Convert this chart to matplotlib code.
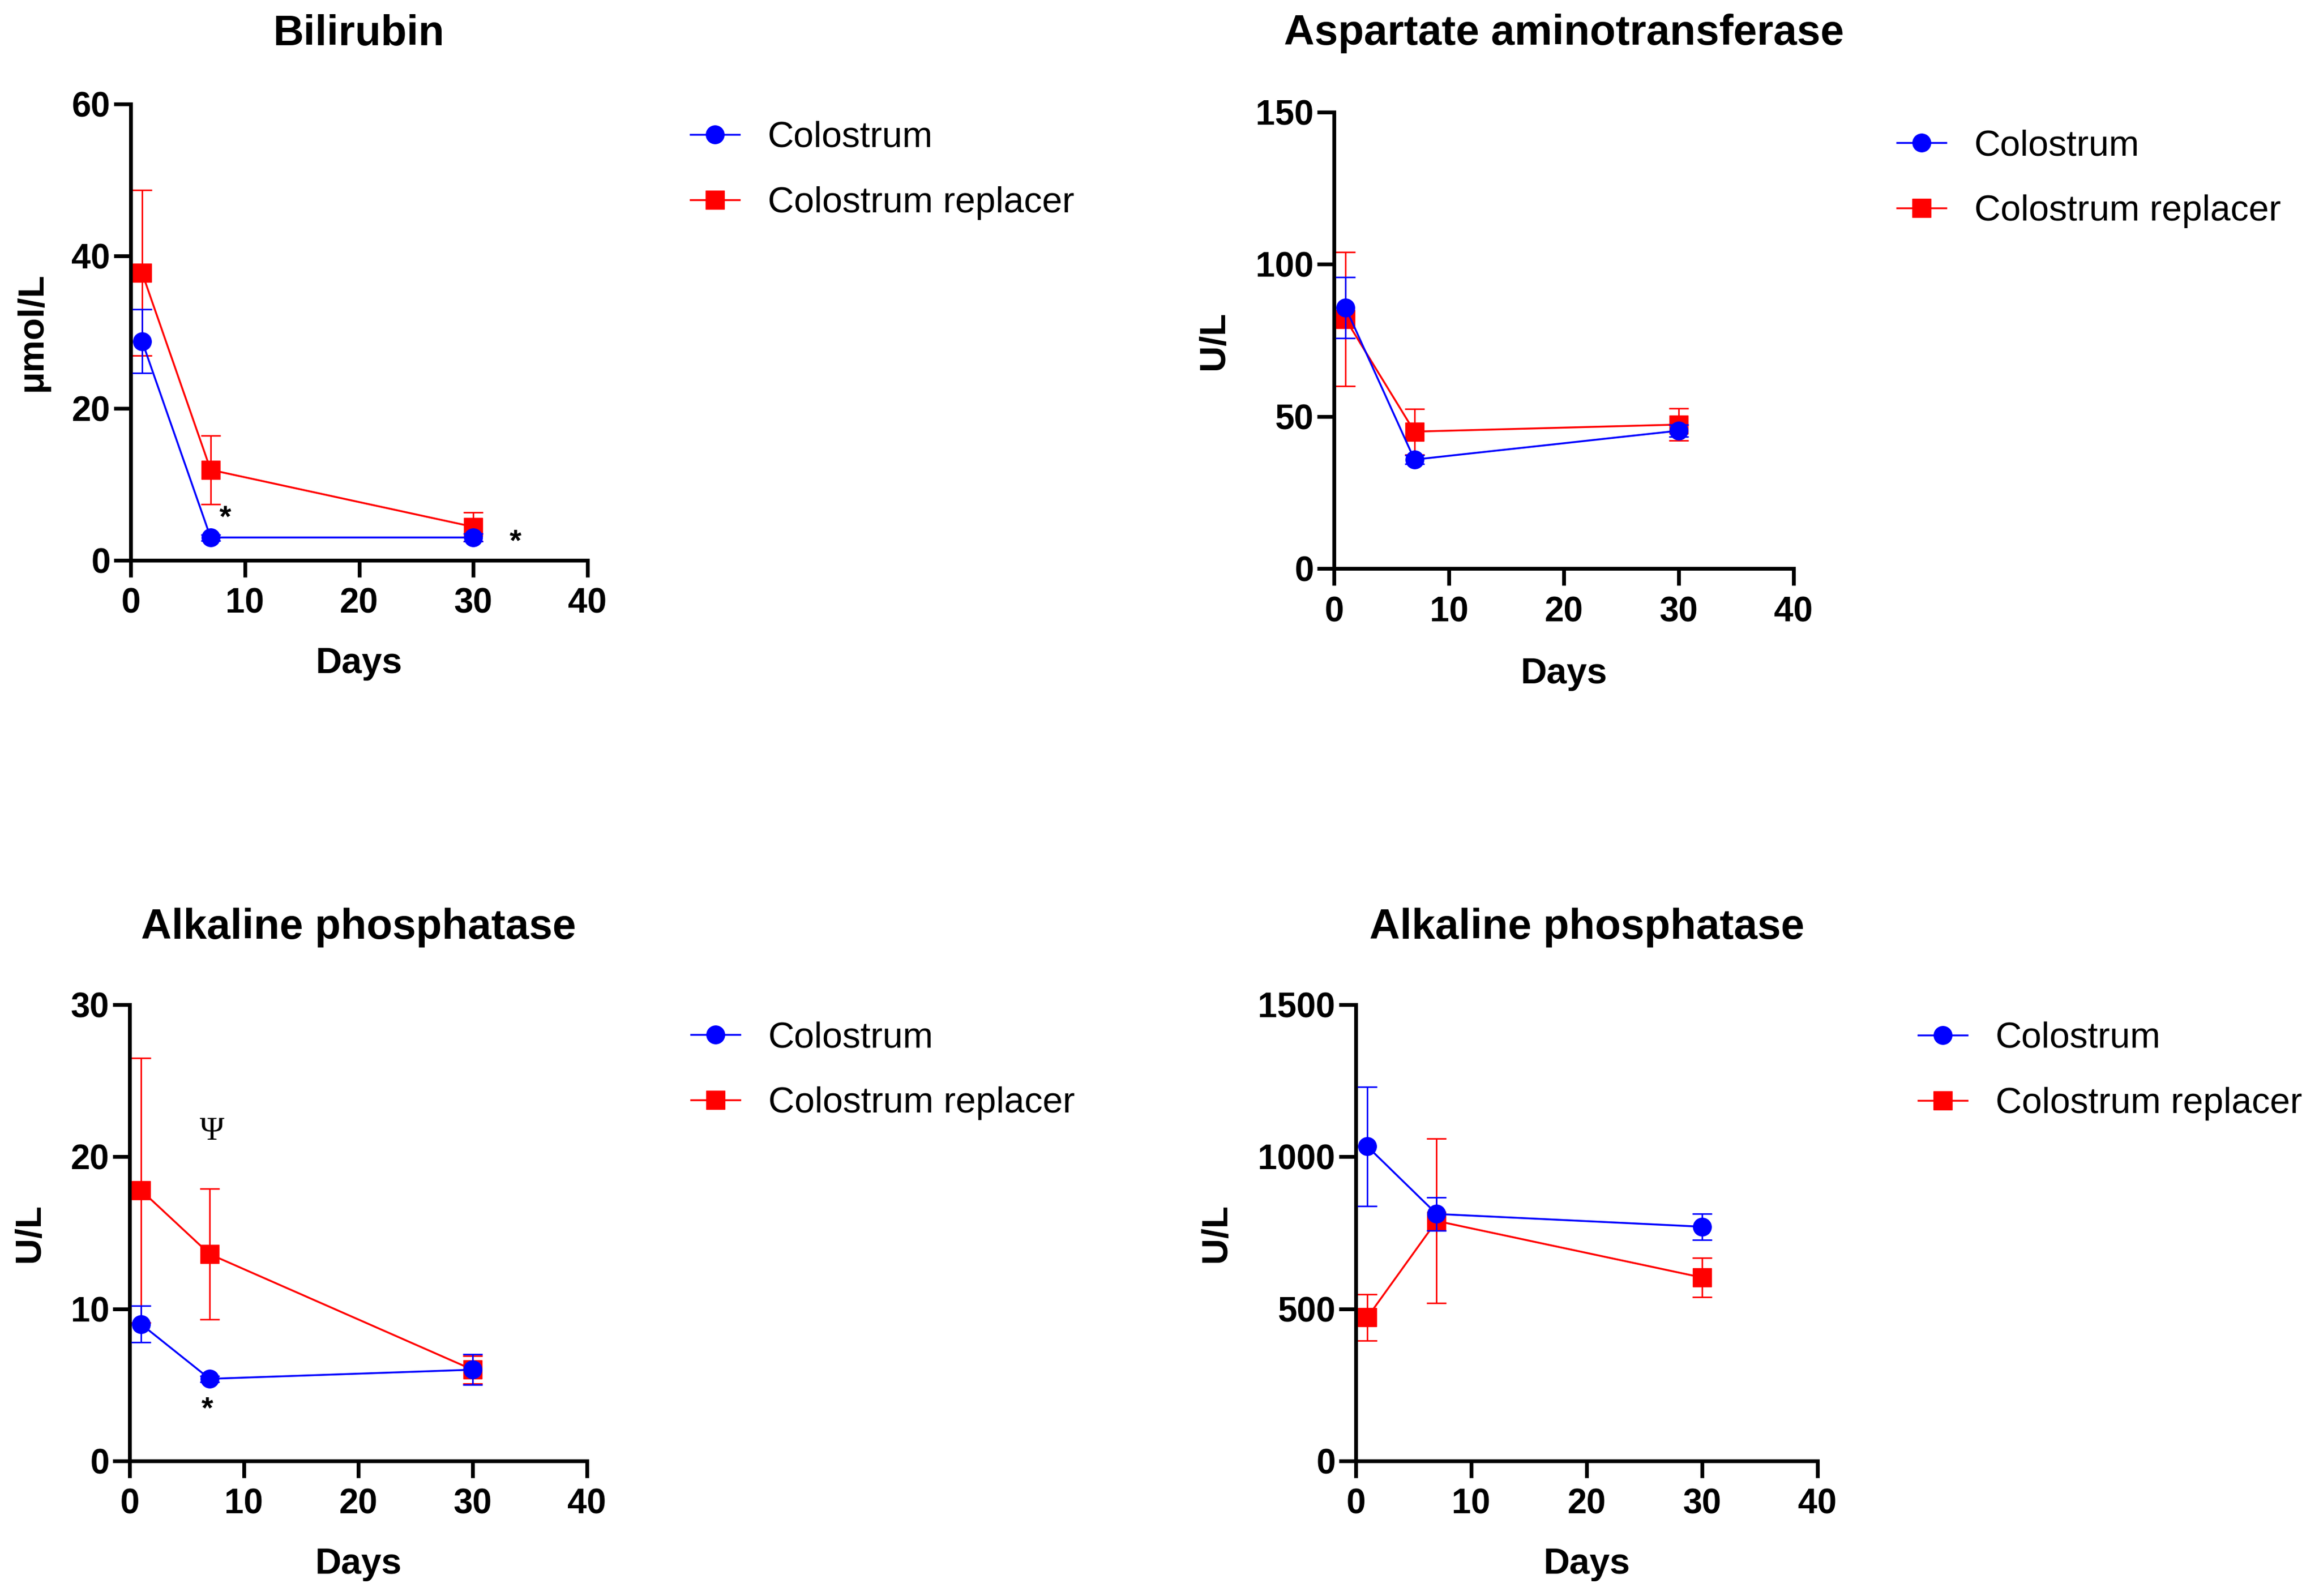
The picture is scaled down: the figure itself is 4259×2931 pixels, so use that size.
import matplotlib
matplotlib.use('Agg')
import matplotlib.pyplot as plt
from matplotlib.transforms import offset_copy

plt.rcParams['font.family'] = ['Liberation Sans', 'DejaVu Sans']

W, H, DPI = 4259, 2931, 100

days = [1, 7, 30]
series_names = ['Colostrum', 'Colostrum replacer']

# Bilirubin (µmol/L)
bili_col = [28.8, 3.0, 3.0]
bili_col_err = [4.2, 0.4, 0.5]
bili_rep = [37.8, 11.9, 4.4]
bili_rep_err = [10.9, 4.5, 1.9]

# Aspartate aminotransferase (U/L)
ast_col = [85.8, 35.8, 45.3]
ast_col_err = [10.0, 1.5, 2.0]
ast_rep = [82.0, 45.0, 47.3]
ast_rep_err = [22.0, 7.5, 5.3]

# Alkaline phosphatase, left panel (U/L)
alp1_col = [9.0, 5.4, 6.0]
alp1_col_err = [1.2, 0.2, 1.0]
alp1_rep = [17.8, 13.6, 6.0]
alp1_rep_err = [8.7, 4.3, 0.9]

# Alkaline phosphatase, right panel (U/L)
alp2_col = [1034, 812, 770]
alp2_col_err = [196, 55, 43]
alp2_rep = [472, 789, 603]
alp2_rep_err = [76, 270, 65]

titles = ['Bilirubin', 'Aspartate aminotransferase',
          'Alkaline phosphatase', 'Alkaline phosphatase']
ylabels = ['\u03bcmol/L', 'U/L', 'U/L', 'U/L']
yticks = [[0, 20, 40, 60], [0, 50, 100, 150], [0, 10, 20, 30],
          [0, 500, 1000, 1500]]
xticks = [0, 10, 20, 30, 40]

# annotations: (panel, text, x, y)
marks = [(0, '*', 8.3, 6.8), (0, '*', 33.7, 3.6),
         (2, '*', 6.8, 4.0), (2, '\u03a8', 7.2, 21.8)]

BLUE = '#0000FF'
RED = '#FF0000'

fig = plt.figure(figsize=(W / DPI, H / DPI), dpi=DPI)

# axes rectangles in pixels: left, right, top, bottom
rects = [(240, 1079, 191, 1029), (2450, 3294, 206, 1044),
         (238, 1078, 1845, 2683), (2490, 3338, 1845, 2683)]
title_pads = [78, 89, 87, 87]
ylab_x = [-0.178, -0.224, -0.181, -0.265]
xlab_y = [-0.190, -0.194, -0.190, -0.190]
legend_pos = [(1268, 222), (3484, 237), (1269, 1875), (3523, 1876)]

data = [
    (bili_col, bili_col_err, bili_rep, bili_rep_err),
    (ast_col, ast_col_err, ast_rep, ast_rep_err),
    (alp1_col, alp1_col_err, alp1_rep, alp1_rep_err),
    (alp2_col, alp2_col_err, alp2_rep, alp2_rep_err),
]

axes = []
for i, (l, r, t, b) in enumerate(rects):
    ax = fig.add_axes([l / W, 1 - b / H, (r - l) / W, (b - t) / H])
    axes.append(ax)
    col, col_e, rep, rep_e = data[i]

    # replacer first, colostrum on top
    ax.errorbar(days, rep, yerr=rep_e, fmt='none', ecolor=RED,
                elinewidth=2.0, capsize=13, capthick=2.0, zorder=2)
    l_rep, = ax.plot(days, rep, color=RED, lw=2.5, marker='s', ms=25,
                     zorder=3, label=series_names[1], clip_on=False)
    ax.errorbar(days, col, yerr=col_e, fmt='none', ecolor=BLUE,
                elinewidth=2.0, capsize=13, capthick=2.0, zorder=4)
    l_col, = ax.plot(days, col, color=BLUE, lw=2.5, marker='o', ms=24,
                     zorder=5, label=series_names[0], clip_on=False)

    ax.set_xlim(0, 40)
    ax.set_ylim(yticks[i][0], yticks[i][-1])
    ax.set_xticks(xticks)
    ax.set_yticks(yticks[i])
    for s in ['top', 'right']:
        ax.spines[s].set_visible(False)
    for s in ['left', 'bottom']:
        ax.spines[s].set_linewidth(5)
    ax.tick_params(axis='both', direction='out', length=22, width=5,
                   labelsize=46)
    ax.tick_params(axis='x', pad=14)
    ax.tick_params(axis='y', pad=5)
    for lab in ax.get_xticklabels() + ax.get_yticklabels():
        lab.set_fontweight('bold')

    ax.set_title(titles[i], fontsize=56, fontweight='bold', pad=title_pads[i])
    ax.set_ylabel(ylabels[i], fontsize=48, fontweight='bold')
    ax.yaxis.set_label_coords(ylab_x[i], 0.5)
    ax.set_xlabel('Days', fontsize=48, fontweight='bold')
    ax.xaxis.set_label_coords(0.5, xlab_y[i])

    lx, ly = legend_pos[i]
    ax.legend(handles=[l_col, l_rep], loc='upper left',
              bbox_to_anchor=(lx / W, 1 - ly / H),
              bbox_transform=fig.transFigure, frameon=False,
              fontsize=48, borderpad=0, borderaxespad=0,
              handlelength=1.35, handletextpad=0.78, labelspacing=0.87)

for (p, txt, x, y) in marks:
    ax = axes[p]
    if txt == '*':
        tr = offset_copy(ax.transData, fig=fig, x=0, y=-23, units='points')
        ax.text(x, y, txt, transform=tr, ha='center', va='baseline',
                fontsize=40, fontweight='bold', zorder=6)
    else:
        tr = offset_copy(ax.transData, fig=fig, x=0, y=-14, units='points')
        ax.text(x, y, txt, transform=tr, ha='center', va='baseline',
                fontsize=44, family=['Liberation Serif', 'DejaVu Serif'],
                zorder=6)

fig.savefig('out.png', dpi=DPI)
